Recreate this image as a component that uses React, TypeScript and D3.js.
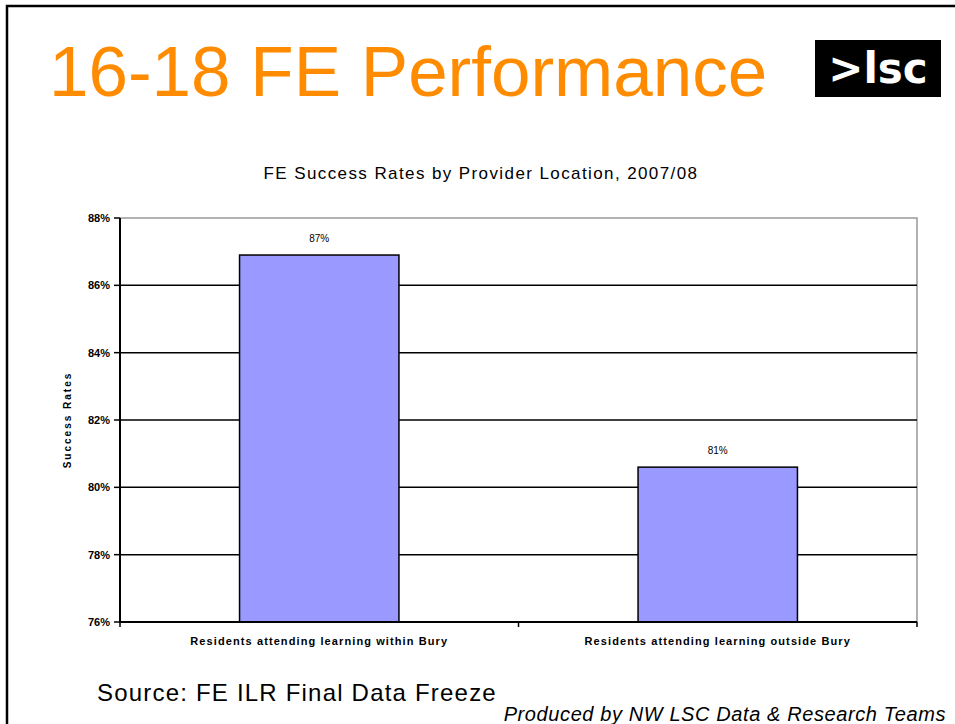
import React from "react";
import * as d3 from "d3";

const categories = [
  "Residents attending learning within Bury",
  "Residents attending learning outside Bury",
];
const successRates = [86.9, 80.6];
const barLabels = ["87%", "81%"];
const yTicks = [76, 78, 80, 82, 84, 86, 88];

const W = 955;
const H = 724;
const plot = { left: 120, top: 218, right: 917, bottom: 622 };

export default function App() {
  const x = d3
    .scaleBand<string>()
    .domain(categories)
    .range([plot.left, plot.right])
    .paddingInner(0.6)
    .paddingOuter(0.3);
  const y = d3.scaleLinear().domain([76, 88]).range([plot.bottom, plot.top]);
  const step = x.step();
  const boundaries = [plot.left, plot.left + step, plot.right];

  return (
    <svg
      width={W}
      height={H}
      style={{ position: "absolute", left: 0, top: 0, background: "#fff" }}
      fontFamily="'Liberation Sans', Arial, sans-serif"
    >
      <rect x={0} y={0} width={W} height={H} fill="#fff" />
      {/* outer frame */}
      <path d={`M7,${H + 5} V6 H${W + 5}`} fill="none" stroke="#000" strokeWidth={2.5} />

      {/* main title */}
      <text x={49} y={96} fontSize={71} fill="#FF8C00">
        16-18 FE Performance
      </text>
      {/* logo */}
      <rect x={815} y={40} width={126} height={57} fill="#000" />
      <text
        x={878}
        y={83}
        fontSize={42}
        fontWeight="bold"
        fill="#fff"
        textAnchor="middle"
        fontFamily="'DejaVu Sans', sans-serif"
      >
        &gt;lsc
      </text>

      {/* chart title */}
      <text x={481} y={179} fontSize={17} letterSpacing={1.4} textAnchor="middle" fill="#000">
        FE Success Rates by Provider Location, 2007/08
      </text>

      {/* plot border top/right */}
      <path
        d={`M${plot.left},${plot.top} H${plot.right} V${plot.bottom}`}
        fill="none"
        stroke="#999"
        strokeWidth={1.5}
      />
      {/* gridlines */}
      {yTicks
        .filter((t) => t !== 76 && t !== 88)
        .map((t) => (
          <line
            key={"g" + t}
            x1={plot.left}
            x2={plot.right}
            y1={y(t)}
            y2={y(t)}
            stroke="#000"
            strokeWidth={1.5}
          />
        ))}

      {/* bars */}
      {categories.map((c, i) => (
        <g key={c}>
          <rect
            x={x(c)}
            y={y(successRates[i])}
            width={x.bandwidth()}
            height={plot.bottom - y(successRates[i])}
            fill="#9999FF"
            stroke="#000"
            strokeWidth={1.5}
          />
          <text
            x={(x(c) as number) + x.bandwidth() / 2}
            y={y(successRates[i]) - 13}
            fontSize={10}
            textAnchor="middle"
            fill="#000"
          >
            {barLabels[i]}
          </text>
          <text
            x={(x(c) as number) + x.bandwidth() / 2}
            y={645}
            fontSize={11}
            fontWeight="bold"
            letterSpacing={1.1}
            textAnchor="middle"
            fill="#000"
          >
            {c}
          </text>
        </g>
      ))}

      {/* y axis */}
      <line x1={plot.left} x2={plot.left} y1={plot.top} y2={plot.bottom + 1} stroke="#000" strokeWidth={2} />
      {yTicks.map((t) => (
        <g key={"t" + t}>
          <line x1={plot.left - 6} x2={plot.left} y1={y(t)} y2={y(t)} stroke="#000" strokeWidth={1.5} />
          <text
            x={110}
            y={y(t) + 4}
            fontSize={11}
            fontWeight="bold"
            textAnchor="end"
            fill="#000"
          >
            {t}%
          </text>
        </g>
      ))}
      <text
        transform={`translate(71,${(plot.top + plot.bottom) / 2}) rotate(-90)`}
        fontSize={10}
        fontWeight="bold"
        letterSpacing={2}
        textAnchor="middle"
        fill="#000"
      >
        Success Rates
      </text>

      {/* x axis */}
      <line x1={plot.left} x2={plot.right} y1={plot.bottom} y2={plot.bottom} stroke="#000" strokeWidth={2} />
      {boundaries.map((b, i) => (
        <line key={"b" + i} x1={b} x2={b} y1={plot.bottom} y2={plot.bottom + 5} stroke="#000" strokeWidth={1.5} />
      ))}

      {/* footer */}
      <text x={97} y={701} fontSize={24} letterSpacing={1.2} fill="#000">
        Source: FE ILR Final Data Freeze
      </text>
      <text x={946} y={721} fontSize={20} fontStyle="italic" letterSpacing={0.6} textAnchor="end" fill="#000">
        Produced by NW LSC Data &amp; Research Teams
      </text>
    </svg>
  );
}
